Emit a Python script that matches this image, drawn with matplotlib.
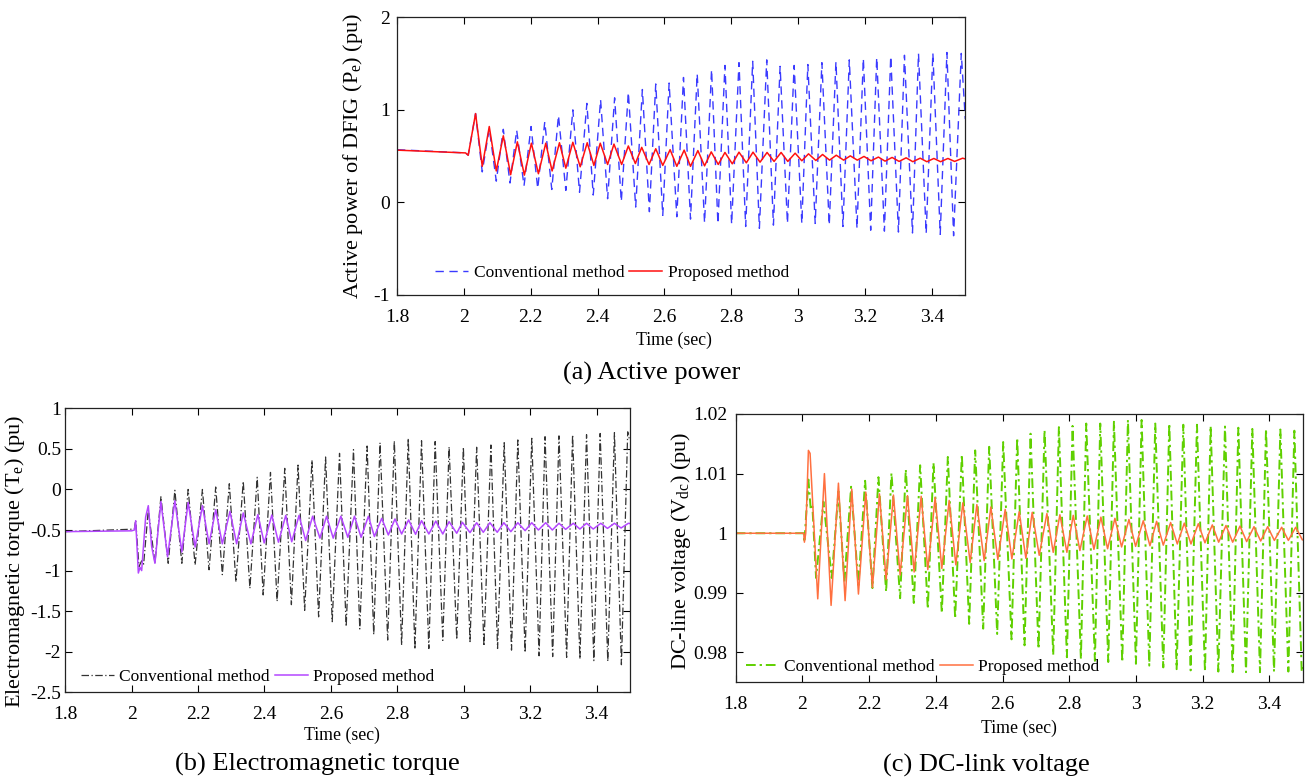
import matplotlib
matplotlib.use("Agg")
import matplotlib.pyplot as plt
from matplotlib.ticker import FuncFormatter, MultipleLocator

plt.rcParams['font.family'] = ['Liberation Serif', 'DejaVu Serif']
plt.rcParams['mathtext.fontset'] = 'custom'
plt.rcParams['mathtext.rm'] = 'Liberation Serif'
plt.rcParams['mathtext.it'] = 'Liberation Serif:italic'
plt.rcParams['axes.unicode_minus'] = False

# ---------------- (a) Active power: extremum points ----------------
t_a_conv = [1.80, 2.005, 2.013, 2.035, 2.055, 2.076, 2.097, 2.118, 2.138, 2.158, 2.180, 2.201,
            2.221, 2.242, 2.263, 2.283, 2.305, 2.326, 2.346, 2.368, 2.387, 2.409, 2.430, 2.451,
            2.471, 2.492, 2.514, 2.534, 2.555, 2.574, 2.595, 2.614, 2.637, 2.657, 2.678, 2.698,
            2.720, 2.741, 2.760, 2.781, 2.801, 2.823, 2.843, 2.864, 2.884, 2.906, 2.926, 2.946,
            2.968, 2.988, 3.011, 3.029, 3.051, 3.071, 3.093, 3.113, 3.134, 3.153, 3.176, 3.195,
            3.217, 3.235, 3.258, 3.277, 3.300, 3.318, 3.342, 3.360, 3.383, 3.403, 3.425, 3.445,
            3.465, 3.488, 3.500]
p_a_conv = [0.57, 0.535, 0.51, 0.96, 0.33, 0.80, 0.23, 0.79, 0.21, 0.78, 0.18, 0.82,
            0.15, 0.87, 0.14, 0.94, 0.13, 1.00, 0.11, 1.07, 0.08, 1.11, 0.04, 1.13,
            0.01, 1.19, -0.05, 1.22, -0.10, 1.28, -0.14, 1.29, -0.155, 1.35, -0.18, 1.39,
            -0.22, 1.435, -0.23, 1.48, -0.235, 1.51, -0.26, 1.525, -0.28, 1.54, -0.245, 1.47,
            -0.227, 1.48, -0.227, 1.49, -0.227, 1.51, -0.245, 1.52, -0.26, 1.54, -0.28, 1.555,
            -0.30, 1.565, -0.31, 1.58, -0.32, 1.59, -0.33, 1.61, -0.335, 1.615, -0.345, 1.62,
            -0.36, 1.61, 0.90]

t_a_prop = [1.80, 2.005, 2.013, 2.035, 2.055, 2.076, 2.097, 2.118, 2.140, 2.160, 2.181, 2.202,
            2.223, 2.245, 2.264, 2.286, 2.305, 2.326, 2.348, 2.369, 2.389, 2.408, 2.430, 2.449,
            2.472, 2.492, 2.513, 2.532, 2.554, 2.574, 2.595, 2.617, 2.637, 2.659, 2.678, 2.700,
            2.720, 2.740, 2.761, 2.781, 2.803, 2.823, 2.845, 2.865, 2.886, 2.907, 2.928, 2.949,
            2.969, 2.991, 3.011, 3.031, 3.053, 3.073, 3.094, 3.114, 3.136, 3.156, 3.177, 3.197,
            3.218, 3.240, 3.260, 3.281, 3.302, 3.323, 3.343, 3.365, 3.385, 3.406, 3.426, 3.448,
            3.468, 3.492, 3.500]
p_a_prop = [0.565, 0.535, 0.51, 0.96, 0.39, 0.82, 0.34, 0.72, 0.30, 0.655, 0.295, 0.64,
            0.31, 0.64, 0.34, 0.645, 0.37, 0.65, 0.385, 0.645, 0.40, 0.64, 0.41, 0.63,
            0.41, 0.61, 0.42, 0.595, 0.41, 0.58, 0.40, 0.57, 0.39, 0.565, 0.39, 0.56,
            0.395, 0.546, 0.41, 0.54, 0.417, 0.543, 0.428, 0.543, 0.435, 0.54, 0.443, 0.54,
            0.443, 0.532, 0.45, 0.525, 0.453, 0.518, 0.457, 0.51, 0.457, 0.503, 0.457, 0.497,
            0.45, 0.49, 0.446, 0.486, 0.443, 0.482, 0.44, 0.478, 0.44, 0.475, 0.44, 0.475,
            0.443, 0.478, 0.47]

# ---------------- (b) Electromagnetic torque ----------------
t_b_conv = [1.80, 2.000, 2.008, 2.012, 2.022, 2.030, 2.036, 2.050, 2.070, 2.088, 2.110, 2.130,
            2.151, 2.170, 2.191, 2.213, 2.233, 2.253, 2.273, 2.294, 2.314, 2.336, 2.356, 2.378,
            2.396, 2.418, 2.438, 2.461, 2.481, 2.501, 2.521, 2.543, 2.563, 2.584, 2.604, 2.626,
            2.646, 2.668, 2.687, 2.709, 2.729, 2.748, 2.771, 2.791, 2.813, 2.833, 2.853, 2.873,
            2.895, 2.914, 2.937, 2.956, 2.979, 2.999, 3.019, 3.039, 3.061, 3.082, 3.102, 3.122,
            3.144, 3.163, 3.185, 3.205, 3.227, 3.245, 3.268, 3.287, 3.310, 3.328, 3.350, 3.370,
            3.392, 3.411, 3.434, 3.454, 3.475, 3.494, 3.500]
p_b_conv = [-0.52, -0.49, -0.49, -0.38, -0.95, -0.88, -0.92, -0.25, -0.91, -0.09, -0.91, -0.01,
            -0.91, 0.0, -0.93, 0.0, -0.99, 0.03, -1.05, 0.07, -1.14, 0.10, -1.22, 0.15,
            -1.30, 0.21, -1.38, 0.26, -1.42, 0.30, -1.49, 0.36, -1.57, 0.40, -1.63, 0.445,
            -1.69, 0.49, -1.72, 0.535, -1.79, 0.576, -1.856, 0.60, -1.917, 0.63, -1.97, 0.60,
            -1.96, 0.59, -1.86, 0.527, -1.85, 0.52, -1.875, 0.52, -1.93, 0.548, -1.96, 0.576,
            -1.98, 0.61, -2.01, 0.63, -2.05, 0.65, -2.06, 0.66, -2.07, 0.675, -2.09, 0.675,
            -2.11, 0.69, -2.12, 0.70, -2.16, 0.71, 0.60]

t_b_prop = [1.80, 2.000, 2.008, 2.012, 2.020, 2.025, 2.030, 2.042, 2.050, 2.060, 2.070, 2.088,
            2.108, 2.130, 2.151, 2.170, 2.191, 2.213, 2.233, 2.253, 2.273, 2.296, 2.316, 2.336,
            2.359, 2.380, 2.399, 2.422, 2.442, 2.464, 2.482, 2.504, 2.524, 2.545, 2.567, 2.587,
            2.607, 2.630, 2.651, 2.671, 2.691, 2.713, 2.731, 2.753, 2.773, 2.793, 2.813, 2.834,
            2.855, 2.873, 2.895, 2.916, 2.937, 2.956, 2.979, 2.996, 3.019, 3.039, 3.059, 3.079,
            3.101, 3.121, 3.142, 3.163, 3.185, 3.205, 3.225, 3.247, 3.267, 3.287, 3.307, 3.330,
            3.350, 3.370, 3.390, 3.413, 3.433, 3.454, 3.474, 3.496, 3.500]
p_b_prop = [-0.52, -0.51, -0.50, -0.385, -1.03, -0.96, -1.00, -0.34, -0.20, -0.70, -0.91, -0.15,
            -0.83, -0.14, -0.77, -0.16, -0.71, -0.20, -0.67, -0.25, -0.67, -0.27, -0.67, -0.29,
            -0.67, -0.31, -0.66, -0.315, -0.65, -0.32, -0.645, -0.32, -0.63, -0.33, -0.60, -0.33,
            -0.60, -0.33, -0.59, -0.33, -0.59, -0.33, -0.58, -0.356, -0.561, -0.364, -0.549, -0.376,
            -0.553, -0.385, -0.549, -0.39, -0.549, -0.397, -0.54, -0.405, -0.532, -0.41, -0.528, -0.41,
            -0.528, -0.41, -0.52, -0.41, -0.508, -0.41, -0.50, -0.41, -0.50, -0.417, -0.492, -0.417,
            -0.488, -0.417, -0.488, -0.417, -0.48, -0.417, -0.475, -0.417, -0.42]

# ---------------- (c) DC-link voltage ----------------
t_c_conv = [1.80, 2.004, 2.006, 2.018, 2.025, 2.030, 2.041, 2.063, 2.088, 2.108, 2.126, 2.146,
            2.168, 2.188, 2.210, 2.228, 2.251, 2.267, 2.293, 2.310, 2.334, 2.353, 2.376, 2.393,
            2.418, 2.436, 2.458, 2.478, 2.500, 2.518, 2.542, 2.560, 2.584, 2.602, 2.627, 2.644,
            2.666, 2.684, 2.708, 2.726, 2.752, 2.769, 2.793, 2.810, 2.835, 2.851, 2.877, 2.893,
            2.917, 2.934, 2.959, 2.976, 3.000, 3.017, 3.040, 3.058, 3.082, 3.100, 3.122, 3.142,
            3.164, 3.183, 3.207, 3.224, 3.247, 3.267, 3.290, 3.307, 3.330, 3.349, 3.372, 3.390,
            3.414, 3.433, 3.457, 3.475, 3.497, 3.500]
v_c_conv = [1.0, 1.0, 0.9985, 1.009, 1.004, 1.0045, 0.9925, 1.0053, 0.9925, 1.007, 0.9919, 1.0078,
            0.9913, 1.0088, 0.9908, 1.0094, 0.9902, 1.0101, 0.9891, 1.0107, 0.9883, 1.0114, 0.9873, 1.0118,
            0.9866, 1.0128, 0.9857, 1.0132, 0.9848, 1.0139, 0.9840, 1.0145, 0.9831, 1.0153, 0.9822, 1.0160,
            0.9812, 1.0167, 0.9806, 1.0173, 0.9796, 1.0178, 0.9792, 1.0180, 0.9789, 1.0184, 0.9786, 1.0184,
            0.9784, 1.0187, 0.9784, 1.0190, 0.9781, 1.0190, 0.9778, 1.0184, 0.9775, 1.0184, 0.9772, 1.0182,
            0.9770, 1.0182, 0.9768, 1.0180, 0.9768, 1.0179, 0.9767, 1.0177, 0.9767, 1.0175, 0.9767, 1.0175,
            0.9768, 1.0174, 0.9768, 1.0172, 0.9768, 0.9775]

t_c_prop = [1.80, 2.004, 2.006, 2.010, 2.018, 2.023, 2.046, 2.066, 2.086, 2.108, 2.128, 2.148,
            2.168, 2.190, 2.210, 2.231, 2.251, 2.273, 2.293, 2.315, 2.335, 2.356, 2.376, 2.398,
            2.418, 2.440, 2.460, 2.481, 2.503, 2.523, 2.545, 2.565, 2.586, 2.608, 2.628, 2.650,
            2.670, 2.689, 2.710, 2.733, 2.752, 2.772, 2.793, 2.812, 2.832, 2.854, 2.874, 2.895,
            2.915, 2.937, 2.957, 2.979, 2.999, 3.022, 3.042, 3.062, 3.082, 3.104, 3.124, 3.145,
            3.165, 3.187, 3.207, 3.229, 3.248, 3.270, 3.290, 3.312, 3.332, 3.354, 3.374, 3.395,
            3.415, 3.437, 3.457, 3.479, 3.499]
v_c_prop = [1.0, 1.0, 0.9985, 1.0, 1.0139, 1.0134, 0.9890, 1.0100, 0.9879, 1.0084, 0.9887, 1.0074,
            0.9898, 1.0069, 0.9909, 1.0066, 0.9922, 1.0064, 0.9930, 1.0063, 0.9935, 1.0062, 0.9939, 1.0060,
            0.9941, 1.0055, 0.9947, 1.0051, 0.9951, 1.0048, 0.9954, 1.0044, 0.9956, 1.0040, 0.9957, 1.0036,
            0.9958, 1.0035, 0.9963, 1.0033, 0.9968, 1.0031, 0.9968, 1.0030, 0.9971, 1.0029, 0.9973, 1.0027,
            0.9974, 1.0025, 0.9977, 1.0023, 0.9978, 1.0021, 0.9979, 1.0020, 0.9980, 1.0018, 0.9982, 1.0017,
            0.9982, 1.0016, 0.9984, 1.0014, 0.9985, 1.0013, 0.9985, 1.0012, 0.9986, 1.0011, 0.9987, 1.0011,
            0.9988, 1.0010, 0.9988, 1.0010, 0.9989]

x_ticks = [1.8, 2.0, 2.2, 2.4, 2.6, 2.8, 3.0, 3.2, 3.4]
legend_labels = ["Conventional method", "Proposed method"]


def fmt(v, pos):
    s = f"{v:.2f}".rstrip('0').rstrip('.')
    if s in ("-0",):
        s = "0"
    return s


fig = plt.figure(figsize=(13.07, 7.82), dpi=100)
W, H = 1307.0, 782.0
TICK_FS = 14
LAB_FS = 16
LEG_FS = 12.5
TIME_FS = 12.8
CAP_FS = 19


def make_axes(l, t, r, b):
    return fig.add_axes([l / W, 1 - b / H, (r - l) / W, (b - t) / H])


def style(ax, ylim, ystep, ypad):
    ax.set_xlim(1.8, 3.5)
    ax.set_ylim(*ylim)
    ax.set_xticks(x_ticks)
    ax.yaxis.set_major_locator(MultipleLocator(ystep))
    ax.xaxis.set_major_formatter(FuncFormatter(fmt))
    ax.yaxis.set_major_formatter(FuncFormatter(fmt))
    ax.tick_params(direction='in', top=True, right=True, length=5, width=0.8,
                   labelsize=TICK_FS)
    ax.tick_params(axis='x', pad=10)
    ax.tick_params(axis='y', pad=ypad)
    for sp in ax.spines.values():
        sp.set_linewidth(0.9)
        sp.set_color('#222222')


leg_kw = dict(ncol=2, frameon=False, loc='lower left', fontsize=LEG_FS,
              handlelength=1.9, handletextpad=0.3, columnspacing=0.3)

# (a)
axA = make_axes(397, 17.3, 965.3, 295)
axA.plot(t_a_conv, p_a_conv, color='#3a3aff', lw=1.0, ls=(0, (6, 4)), label=legend_labels[0])
axA.plot(t_a_prop, p_a_prop, color='#ff1010', lw=1.1, label=legend_labels[1])
style(axA, (-1, 2), 1, 5)
axA.set_ylabel(r'Active power of DFIG (P$_{\rm e}$) (pu)', fontsize=LAB_FS)
axA.yaxis.set_label_coords(-0.056, 0.5)
axA.legend(bbox_to_anchor=(0.04, -0.005), **leg_kw)

# (b)
axB = make_axes(65.3, 408.3, 629.7, 692.3)
axB.plot(t_b_conv, p_b_conv, color='#333333', lw=0.9, ls=(0, (6, 2, 1, 2)), label=legend_labels[0])
axB.plot(t_b_prop, p_b_prop, color='#b447ff', lw=1.1, label=legend_labels[1])
style(axB, (-2.5, 1), 0.5, 3)
axB.set_ylabel(r'Electromagnetic torque (T$_{\rm e}$) (pu)', fontsize=LAB_FS)
axB.yaxis.set_label_coords(-0.068, 0.46)
axB.legend(bbox_to_anchor=(0.0, -0.03), **leg_kw)

# (c)
axC = make_axes(735.7, 414, 1302.7, 682.3)
axC.plot(t_c_conv, v_c_conv, color='#5fd000', lw=1.4, ls=(0, (5, 2, 1.2, 2)), label=legend_labels[0])
axC.plot(t_c_prop, v_c_prop, color='#ff7040', lw=1.1, label=legend_labels[1])
style(axC, (0.975, 1.02), 0.01, 6)
axC.set_ylabel(r'DC-line voltage (V$_{\rm dc}$) (pu)', fontsize=LAB_FS)
axC.yaxis.set_label_coords(-0.075, 0.49)
axC.legend(bbox_to_anchor=(-0.01, -0.03), **leg_kw)

# x labels and panel captions placed as in the reference
fig.text(674 / W, 1 - 340 / H, 'Time (sec)', ha='center', va='center', fontsize=TIME_FS)
fig.text(342 / W, 1 - 735 / H, 'Time (sec)', ha='center', va='center', fontsize=TIME_FS)
fig.text(1019 / W, 1 - 728 / H, 'Time (sec)', ha='center', va='center', fontsize=TIME_FS)
fig.text(652 / W, 1 - 373 / H, '(a) Active power', ha='center', va='center', fontsize=CAP_FS)
fig.text(317 / W, 1 - 764 / H, '(b) Electromagnetic torque', ha='center', va='center', fontsize=CAP_FS)
fig.text(986 / W, 1 - 765 / H, '(c) DC-link voltage', ha='center', va='center', fontsize=CAP_FS)

fig.savefig('out.png', dpi=100)
